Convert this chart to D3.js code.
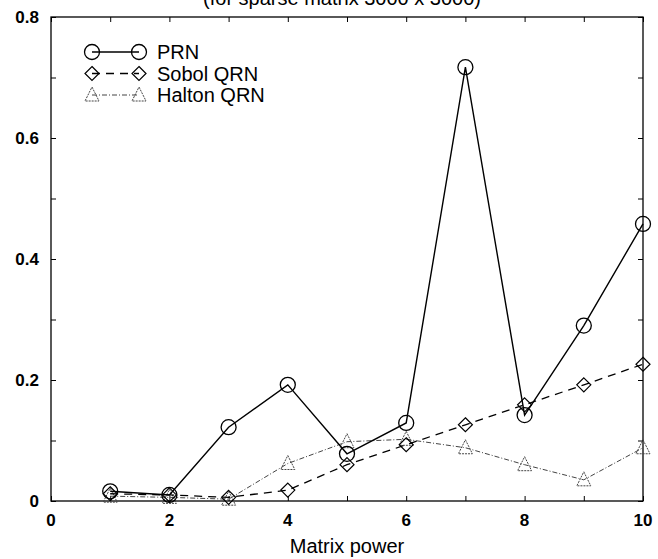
<!DOCTYPE html>
<html>
<head>
<meta charset="utf-8">
<script src="https://cdn.jsdelivr.net/npm/d3@7"></script>
<style>
  body { margin: 0; background: #fff; }
  svg text { font-family: "Liberation Sans", Arial, sans-serif; fill: #000; }
</style>
</head>
<body>
<div id="chart"></div>
<script>
// Data
const matrixPower = [1, 2, 3, 4, 5, 6, 7, 8, 9, 10];
const prn    = [0.016, 0.010, 0.122, 0.192, 0.078, 0.129, 0.717, 0.142, 0.290, 0.458];
const sobol  = [0.012, 0.010, 0.006, 0.018, 0.060, 0.093, 0.126, 0.159, 0.192, 0.226];
const halton = [0.008, 0.006, 0.003, 0.062, 0.098, 0.102, 0.088, 0.060, 0.035, 0.088];
const seriesNames = ["PRN", "Sobol QRN", "Halton QRN"];
const xTicks = [0, 2, 4, 6, 8, 10];
const yTicks = [0, 0.2, 0.4, 0.6, 0.8];
const titleText = "(for sparse matrix 3000 x 3000)";
const xLabel = "Matrix power";

// SVG configurations
const W = 658, H = 559;
const margin = { top: 17, right: 15, bottom: 58, left: 51 };
const width = W - margin.left - margin.right;
const height = H - margin.top - margin.bottom;

const svg = d3.select("#chart")
              .append("svg")
                .attr("width", W)
                .attr("height", H);
const g = svg.append("g")
             .attr("transform", `translate(${margin.left},${margin.top})`);

const xScale = d3.scaleLinear().domain([0, 10]).range([0, width]);
const yScale = d3.scaleLinear().domain([0, 0.8]).range([height, 0]);

// Frame
g.append("rect")
 .attr("width", width)
 .attr("height", height)
 .attr("fill", "none")
 .attr("stroke", "#000")
 .attr("stroke-width", 1.3);

// Inward ticks on all four sides
const tickLen = 5;
const xMinor = d3.range(0, 11, 1);
const yMinor = d3.range(0, 0.81, 0.1);

// bottom
g.append("g")
 .attr("transform", `translate(0,${height})`)
 .call(d3.axisBottom(xScale).tickValues(xMinor).tickSize(-tickLen).tickFormat(""))
 .call(a => a.select(".domain").remove());
// top
g.append("g")
 .call(d3.axisTop(xScale).tickValues(xMinor).tickSize(-tickLen).tickFormat(""))
 .call(a => a.select(".domain").remove());
// left
g.append("g")
 .call(d3.axisLeft(yScale).tickValues(yMinor).tickSize(-tickLen).tickFormat(""))
 .call(a => a.select(".domain").remove());
// right
g.append("g")
 .attr("transform", `translate(${width},0)`)
 .call(d3.axisRight(yScale).tickValues(yMinor).tickSize(-tickLen).tickFormat(""))
 .call(a => a.select(".domain").remove());

g.selectAll(".tick line").attr("stroke", "#000").attr("stroke-width", 1);

// Tick labels
g.selectAll(".xlab")
 .data(xTicks)
 .join("text")
   .attr("class", "xlab")
   .attr("x", d => xScale(d))
   .attr("y", height + 25)
   .attr("text-anchor", "middle")
   .style("font-size", "17px")
   .style("font-weight", "bold")
   .text(d => d);

g.selectAll(".ylab")
 .data(yTicks)
 .join("text")
   .attr("class", "ylab")
   .attr("x", -12)
   .attr("y", d => yScale(d) + 6)
   .attr("text-anchor", "end")
   .style("font-size", "17px")
   .style("font-weight", "bold")
   .text(d => d === 0 ? "0" : d.toFixed(1));

// Axis title and chart title (cut by the top edge, as in the reference)
svg.append("text")
   .attr("x", margin.left + width / 2)
   .attr("y", H - 6)
   .attr("text-anchor", "middle")
   .style("font-size", "20px")
   .text(xLabel);

svg.append("text")
   .attr("x", 342)
   .attr("y", 5)
   .attr("text-anchor", "middle")
   .style("font-size", "20px")
   .text(titleText);

// Series
const series = [
  { name: seriesNames[0], values: prn,    dash: null,      width: 1.4, color: "#000", shape: "circle" },
  { name: seriesNames[1], values: sobol,  dash: "8,6",     width: 1.3, color: "#000", shape: "diamond" },
  { name: seriesNames[2], values: halton, dash: "5,2,1,2", width: 1,   color: "#444", shape: "triangle" }
];

function drawMarker(sel, shape, color) {
  if (shape === "circle") {
    sel.append("circle").attr("r", 7.5)
       .attr("fill", "none").attr("stroke", "#000").attr("stroke-width", 1.3);
  } else if (shape === "diamond") {
    sel.append("path").attr("d", "M0,-7L7,0L0,7L-7,0Z")
       .attr("fill", "none").attr("stroke", "#000").attr("stroke-width", 1.2);
  } else {
    sel.append("path").attr("d", "M0,-8L7,6L-7,6Z")
       .attr("fill", "none").attr("stroke", color).attr("stroke-width", 1)
       .attr("stroke-dasharray", "2,1");
  }
}

const line = d3.line()
               .x((d, i) => xScale(matrixPower[i]))
               .y(d => yScale(d));

series.slice().reverse().forEach(s => {
  g.append("path")
   .datum(s.values)
   .attr("fill", "none")
   .attr("stroke", s.color)
   .attr("stroke-width", s.width)
   .attr("stroke-dasharray", s.dash)
   .attr("d", line);

  g.selectAll(null)
   .data(s.values)
   .join("g")
     .attr("transform", (d, i) => `translate(${xScale(matrixPower[i])},${yScale(d)})`)
     .each(function() { drawMarker(d3.select(this), s.shape, s.color); });
});

// Legend
const legend = svg.append("g").attr("transform", "translate(92,52)");
series.forEach((s, i) => {
  const row = legend.append("g").attr("transform", `translate(0,${i * 21.5})`);
  row.append("line")
     .attr("x1", 0).attr("x2", 47)
     .attr("stroke", s.color)
     .attr("stroke-width", s.width)
     .attr("stroke-dasharray", s.dash);
  drawMarker(row.append("g"), s.shape, s.color);
  drawMarker(row.append("g").attr("transform", "translate(47,0)"), s.shape, s.color);
  row.append("text")
     .attr("x", 65)
     .attr("y", 7)
     .style("font-size", "20px")
     .text(s.name);
});
</script>
</body>
</html>
